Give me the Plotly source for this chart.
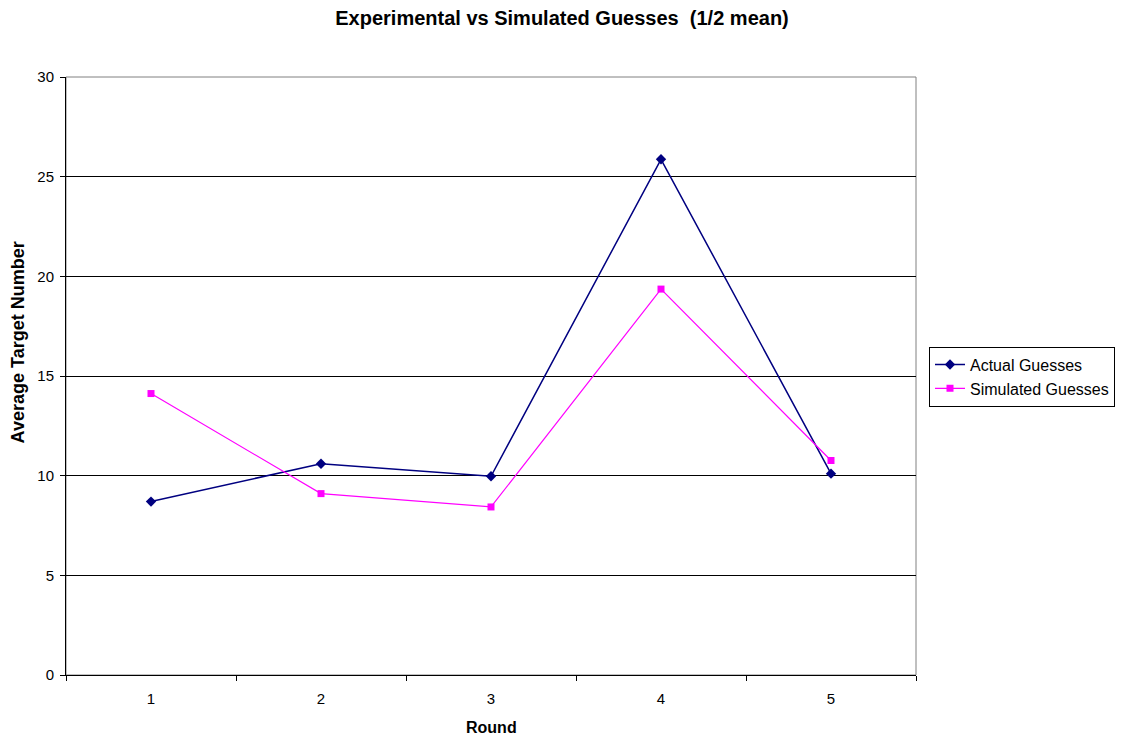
import plotly.graph_objects as go

rounds = ["1", "2", "3", "4", "5"]
actual = [8.7, 10.6, 9.97, 25.87, 10.1]
simulated = [14.12, 9.1, 8.43, 19.36, 10.76]

fig = go.Figure()
fig.add_trace(go.Scatter(
    x=rounds, y=actual, mode="lines+markers", name="Actual Guesses",
    line=dict(color="#000080", width=1.5),
    marker=dict(symbol="diamond", size=8, color="#000080"),
))
fig.add_trace(go.Scatter(
    x=rounds, y=simulated, mode="lines+markers", name="Simulated Guesses",
    line=dict(color="#FF00FF", width=1.2),
    marker=dict(symbol="square", size=7, color="#FF00FF"),
))

font_family = "Liberation Sans, Arial, sans-serif"
fig.update_layout(
    width=1124, height=742,
    margin=dict(l=66, r=208, t=77, b=67, autoexpand=False),
    paper_bgcolor="white", plot_bgcolor="white",
    font=dict(family=font_family, size=15, color="black"),
    title=dict(text="<b>Experimental vs Simulated Guesses  (1/2 mean)</b>",
               x=0.5, xanchor="center", y=0.9757, yanchor="middle",
               font=dict(size=20, family=font_family)),
    xaxis=dict(
        type="category",
        showgrid=False, showline=True, linecolor="black", linewidth=1,
        ticks="outside", tickson="boundaries", ticklen=5, tickcolor="black",
        tickfont=dict(size=15), range=[-0.5, 4.5], ticklabelstandoff=10,
    ),
    yaxis=dict(
        range=[0, 30], tickvals=[0, 5, 10, 15, 20, 25, 30],
        showgrid=True, gridcolor="black", gridwidth=1,
        showline=True, linecolor="black", linewidth=1,
        ticks="outside", ticklen=5, tickcolor="black",
        tickfont=dict(size=15), zeroline=False, ticklabelstandoff=3,
    ),
    legend=dict(
        x=1.0153, xanchor="left", y=0.499, yanchor="middle",
        bordercolor="black", borderwidth=1, bgcolor="white",
        font=dict(size=16), tracegroupgap=0,
    ),
    annotations=[
        dict(text="<b>Round</b>", xref="paper", yref="paper", x=0.5, y=-0.0886,
             xanchor="center", yanchor="middle", showarrow=False,
             font=dict(size=16)),
        dict(text="<b>Average Target Number</b>", xref="paper", yref="paper",
             x=-0.0571, y=0.557, xanchor="center", yanchor="middle",
             textangle=-90, showarrow=False, font=dict(size=18)),
    ],
    shapes=[dict(type="rect", xref="paper", yref="paper", x0=0, x1=1, y0=0, y1=1,
                 line=dict(color="#808080", width=1), layer="below")],
)

fig.write_html("out.html")
